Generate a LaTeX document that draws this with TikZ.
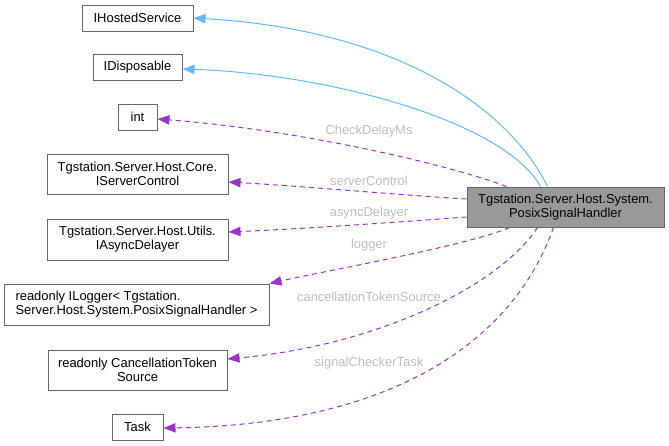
\documentclass[tikz,border=0pt]{standalone}
\usepackage{fontspec}
\setmainfont{Liberation Sans}
\usetikzlibrary{arrows.meta,calc}
\definecolor{edgeblue}{HTML}{63B8FF}
\definecolor{edgepurple}{HTML}{9A32CD}
\definecolor{boxborder}{HTML}{666666}
\definecolor{labelgray}{HTML}{BDBDBD}
\definecolor{mainfill}{HTML}{999999}
\tikzset{
  box/.style={draw=boxborder, line width=0.75pt, fill=white, inner sep=0pt, align=center,
    font=\fontsize{9.7}{10.5}\selectfont},
  mainbox/.style={box, fill=mainfill},
  inh/.style={draw=edgeblue, line width=0.75pt, -{Triangle[length=9pt,width=7pt]}},
  usage/.style={draw=edgepurple, line width=0.75pt, dash pattern=on 3.75pt off 3pt,
    -{Triangle[length=9pt,width=7pt]}},
  elabel/.style={text=labelgray, font=\fontsize{9.7}{10.5}\selectfont, inner sep=0pt}
}
\begin{document}
\begin{tikzpicture}[x=0.75pt,y=-0.75pt]
\useasboundingbox (0,0) rectangle (669,446);
% nodes
\node[box, minimum width=83.25pt, minimum height=19.5pt] (hs) at (137.5,18) {IHostedService};
\node[box, minimum width=66.75pt, minimum height=19.5pt] (disp) at (137.5,67) {IDisposable};
\node[box, minimum width=29.25pt, minimum height=19.5pt] (int) at (137.5,117) {int};
\node[box, minimum width=135.75pt, minimum height=30pt] (sc) at (137.5,174) {Tgstation.Server.Host.Core.\\IServerControl};
\node[box, minimum width=135.75pt, minimum height=30.75pt] (ad) at (137.5,239.5) {Tgstation.Server.Host.Utils.\\IAsyncDelayer};
\node[box, align=left, minimum width=198.75pt, minimum height=30.75pt] (lg) at (136.5,304.5) {readonly ILogger< Tgstation.\\Server.Host.System.PosixSignalHandler >};
\node[box, minimum width=134.25pt, minimum height=30pt] (cts) at (137.5,370) {readonly CancellationToken\\Source};
\node[box, minimum width=38.25pt, minimum height=19.5pt] (task) at (137.5,427) {Task};
\node[mainbox, minimum width=147.75pt, minimum height=30pt] (main) at (565.5,207) {Tgstation.Server.Host.System.\\PosixSignalHandler};
% inheritance edges
\draw[inh] ($(main.north west)+(81,0)$) .. controls (510,110) and (400,30) .. (hs.east);
\draw[inh] ($(main.north west)+(74,0)$) .. controls (505,122) and (330,74) .. ($(disp.east)+(0,2)$);
% usage edges
\draw[usage] ($(main.north west)+(40,0)$) .. controls (450,165) and (300,130) .. ($(int.east)+(0,2)$);
\draw[usage] ($(main.west)+(0,-8)$) .. controls (400,195) and (300,186) .. ($(sc.east)+(0,8)$);
\draw[usage] ($(main.west)+(0,10)$) .. controls (400,222) and (300,229) .. ($(ad.east)+(0,-7.5)$);
\draw[usage] ($(main.south west)+(43,0)$) .. controls (470,245) and (330,270) .. (lg.north east);
\draw[usage] ($(main.south west)+(71,0)$) .. controls (500,285) and (380,345) .. ($(cts.east)+(0,-11)$);
\draw[usage] ($(main.south west)+(87,0)$) .. controls (510,350) and (380,425) .. ($(task.east)+(0,1)$);
% edge labels
\node[elabel] (l1) at (369,131) {CheckDelayMs};
\node[elabel] (l2) at (369,181) {serverControl};
\node[elabel] (l3) at (369,213) {asyncDelayer};
\node[elabel] (l4) at (369,245) {logger};
\node[elabel] (l5) at (369,297) {cancellationTokenSource};
\node[elabel] (l6) at (369,363) {signalCheckerTask};
\end{tikzpicture}
\end{document}
